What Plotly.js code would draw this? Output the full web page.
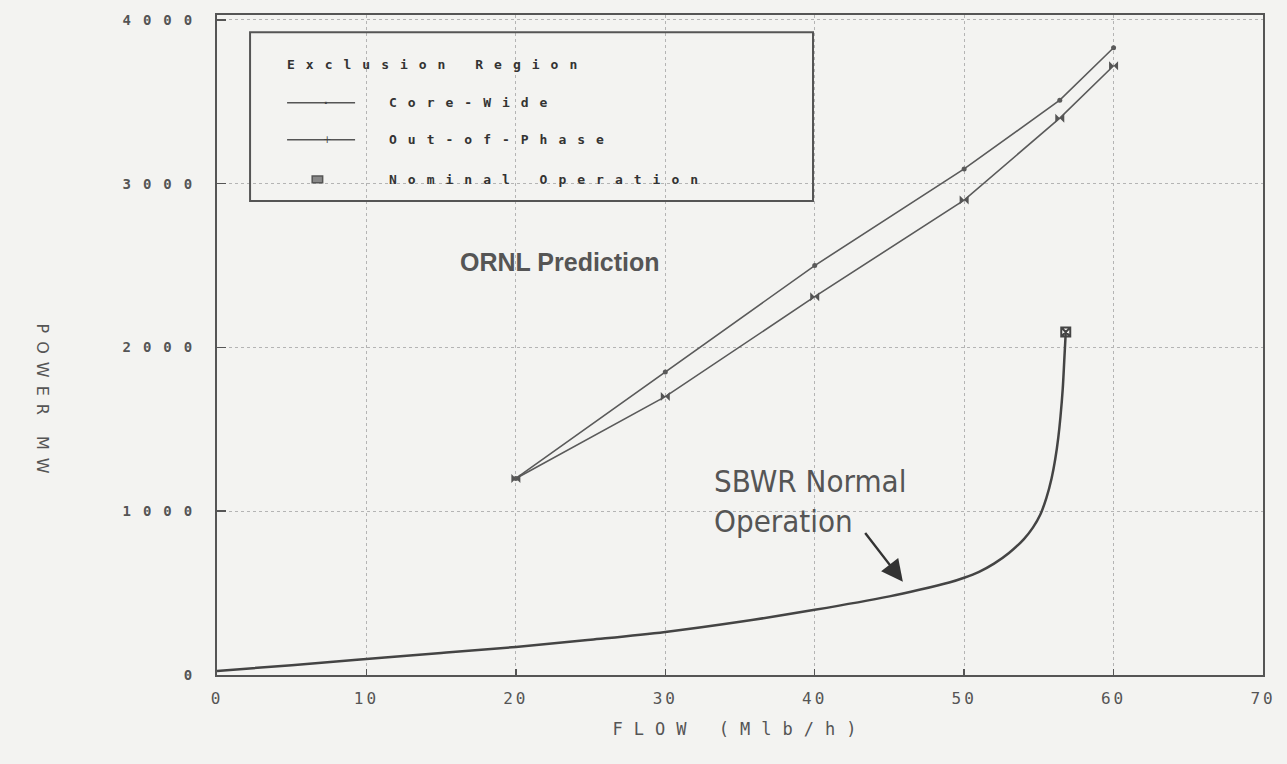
<!DOCTYPE html>
<html>
<head>
<meta charset="utf-8">
<script src="https://cdn.plot.ly/plotly-3.0.1.min.js"></script>
<style>
  html, body { margin: 0; padding: 0; background: #f3f3f1; }
  #chart { width: 1287px; height: 764px; }
  .ytick text { letter-spacing: 12px; }
  .xtick text { letter-spacing: 3px; }
  .g-xtitle text { letter-spacing: 11px; }
</style>
</head>
<body>
<div id="chart"></div>
<script>
// ---- data ----
const flowORNL = [20, 30, 40, 50, 56.4, 60];
const coreWidePower = [1200, 1850, 2500, 3090, 3510, 3830];
const outOfPhasePower = [1200, 1700, 2310, 2900, 3400, 3720];

const sbwrFlow = [0, 5, 10, 15, 20, 25, 30, 35, 40, 45, 47, 49, 50, 51, 52, 53, 54, 54.6, 55.1, 55.5, 55.85, 56.1, 56.3, 56.45, 56.6, 56.7, 56.8];
const sbwrPower = [25, 60, 98, 135, 171, 215, 263, 325, 398, 480, 520, 565, 594, 630, 680, 745, 830, 900, 980, 1080, 1200, 1320, 1450, 1580, 1750, 1920, 2094];

const nominalFlow = [56.8];
const nominalPower = [2094];

const xTicks = [0, 10, 20, 30, 40, 50, 60, 70];
const yTicks = [0, 1000, 2000, 3000, 4000];

const legendTitle = "Exclusion Region";
const legendNames = ["Core-Wide", "Out-of-Phase", "Nominal Operation"];
const xTitle = "FLOW (Mlb/h)";
const yTitle = "POWER MW";
const noteORNL = "ORNL Prediction";
const noteSBWR = "SBWR Normal<br>Operation";

const traces = [
  {
    x: flowORNL, y: coreWidePower, name: legendNames[0], type: "scatter", mode: "lines+markers",
    line: { color: "#5a5a5a", width: 1.6 },
    marker: { symbol: "circle", size: 5, color: "#5a5a5a" },
    showlegend: false
  },
  {
    x: flowORNL, y: outOfPhasePower, name: legendNames[1], type: "scatter", mode: "lines+markers",
    line: { color: "#5a5a5a", width: 1.6 },
    marker: { symbol: "bowtie", size: 9, color: "#555" },
    showlegend: false
  },
  {
    x: sbwrFlow, y: sbwrPower, name: "SBWR Normal Operation", type: "scatter", mode: "lines",
    line: { color: "#444", width: 2.5, shape: "spline", smoothing: 1 },
    showlegend: false
  },
  {
    x: nominalFlow, y: nominalPower, name: legendNames[2], type: "scatter", mode: "markers",
    marker: { symbol: "square-x-open", size: 9, color: "#444", line: { width: 2, color: "#444" } },
    showlegend: false
  }
];

// legend geometry in paper coordinates
const lgL = 0.0316, lgR = 0.5698, lgT = 0.974, lgB = 0.718;
const rowY = [0.925, 0.867, 0.811, 0.751];
const smpL = 0.067, smpR = 0.132, txtX = 0.163, nomX = 0.096;

const shapes = [
  { type: "rect", xref: "paper", yref: "paper", x0: lgL, x1: lgR, y0: lgB, y1: lgT,
    line: { color: "#555", width: 2 }, fillcolor: "rgba(0,0,0,0)" },
  { type: "line", xref: "paper", yref: "paper", x0: smpL, x1: smpR, y0: rowY[1], y1: rowY[1],
    line: { color: "#555", width: 1.6 } },
  { type: "line", xref: "paper", yref: "paper", x0: smpL, x1: smpR, y0: rowY[2], y1: rowY[2],
    line: { color: "#555", width: 1.6 } },
  { type: "rect", xref: "paper", yref: "paper", x0: nomX - 0.005, x1: nomX + 0.005, y0: rowY[3] - 0.005, y1: rowY[3] + 0.005,
    line: { color: "#555", width: 1.5 }, fillcolor: "#888" }
];

const legFont = { family: "DejaVu Sans Mono", size: 13, color: "#333", weight: "bold" };
const annotations = [
  { xref: "paper", yref: "paper", x: 0.065, y: rowY[0], xanchor: "left", yanchor: "middle",
    text: legendTitle, showarrow: false, font: legFont },
  { xref: "paper", yref: "paper", x: txtX, y: rowY[1], xanchor: "left", yanchor: "middle",
    text: legendNames[0], showarrow: false, font: legFont },
  { xref: "paper", yref: "paper", x: txtX, y: rowY[2], xanchor: "left", yanchor: "middle",
    text: legendNames[1], showarrow: false, font: legFont },
  { xref: "paper", yref: "paper", x: txtX, y: rowY[3], xanchor: "left", yanchor: "middle",
    text: legendNames[2], showarrow: false, font: legFont },
  { xref: "paper", yref: "paper", x: (smpL + smpR) / 2, y: rowY[1], text: "·", showarrow: false,
    font: { family: "DejaVu Sans", size: 18, color: "#444" }, yanchor: "middle" },
  { xref: "paper", yref: "paper", x: (smpL + smpR) / 2, y: rowY[2], text: "+", showarrow: false,
    font: { family: "DejaVu Sans", size: 10, color: "#444" }, yanchor: "middle" },
  // in-plot notes
  { xref: "x", yref: "y", x: 22.95, y: 2522, text: "<b>" + noteORNL + "</b>", showarrow: false,
    font: { family: "Liberation Sans, Arial", size: 25, color: "#555" } },
  { xref: "x", yref: "y", x: 33.1, y: 1060, xanchor: "left", yanchor: "middle", align: "left",
    text: noteSBWR, showarrow: false,
    font: { family: "Liberation Sans Narrow, DejaVu Sans Condensed, Roboto", size: 31, color: "#555" } },
  { xref: "x", yref: "y", axref: "x", ayref: "y", x: 45.9, y: 569, ax: 43.3, ay: 876,
    text: "", showarrow: true, arrowhead: 2, arrowsize: 1.8, arrowwidth: 2.4, arrowcolor: "#333", standoff: 0 },
  // y title, vertical
  { xref: "paper", yref: "paper", x: -0.167, y: 0.535, xanchor: "center", yanchor: "top",
    text: yTitle, textangle: 90, showarrow: false,
    font: { family: "DejaVu Sans", size: 16, color: "#555" } }
];

const layout = {
  width: 1287, height: 764,
  margin: { l: 217, r: 24, t: 15, b: 89 },
  paper_bgcolor: "#f3f3f1", plot_bgcolor: "#f3f3f1",
  xaxis: {
    range: [0, 70], tickvals: xTicks, ticktext: xTicks.map(String),
    ticks: "inside", ticklen: 6, tickwidth: 1.5, tickcolor: "#555",
    showline: true, mirror: true, linecolor: "#555", linewidth: 2,
    showgrid: true, gridcolor: "#b4b4b4", griddash: "dot", gridwidth: 1,
    zeroline: false, ticklabelstandoff: 8,
    tickfont: { family: "DejaVu Sans Mono", size: 16, color: "#555" },
    title: { text: xTitle, standoff: 16, font: { family: "DejaVu Sans Mono", size: 17, color: "#555" } }
  },
  yaxis: {
    range: [0, 4030], tickvals: yTicks, ticktext: yTicks.map(String),
    ticks: "inside", ticklen: 9, tickwidth: 1.5, tickcolor: "#555",
    showline: true, mirror: true, linecolor: "#555", linewidth: 2,
    showgrid: true, gridcolor: "#b4b4b4", griddash: "dot", gridwidth: 1,
    zeroline: false, ticklabelstandoff: 8,
    tickfont: { family: "DejaVu Sans Mono", size: 14, color: "#555", weight: "bold" }
  },
  shapes: shapes,
  annotations: annotations,
  showlegend: false
};

function spaceOut(t, px) {
  // keep the text's start where Plotly put it, then widen it
  const bb = t.getBBox();
  t.setAttribute("text-anchor", "start");
  t.setAttribute("x", bb.x);
  t.querySelectorAll("tspan[x]").forEach(function (s) { s.setAttribute("x", bb.x); });
  t.style.letterSpacing = px + "px";
}

Plotly.newPlot("chart", traces, layout, { staticPlot: true }).then(function () {
  const legendTexts = [legendTitle].concat(legendNames);
  document.querySelectorAll(".annotation-text").forEach(function (t) {
    const s = t.textContent;
    if (legendTexts.indexOf(s) >= 0) spaceOut(t, 11);
    else if (s === yTitle) spaceOut(t, 8);
  });
});
</script>
</body>
</html>
